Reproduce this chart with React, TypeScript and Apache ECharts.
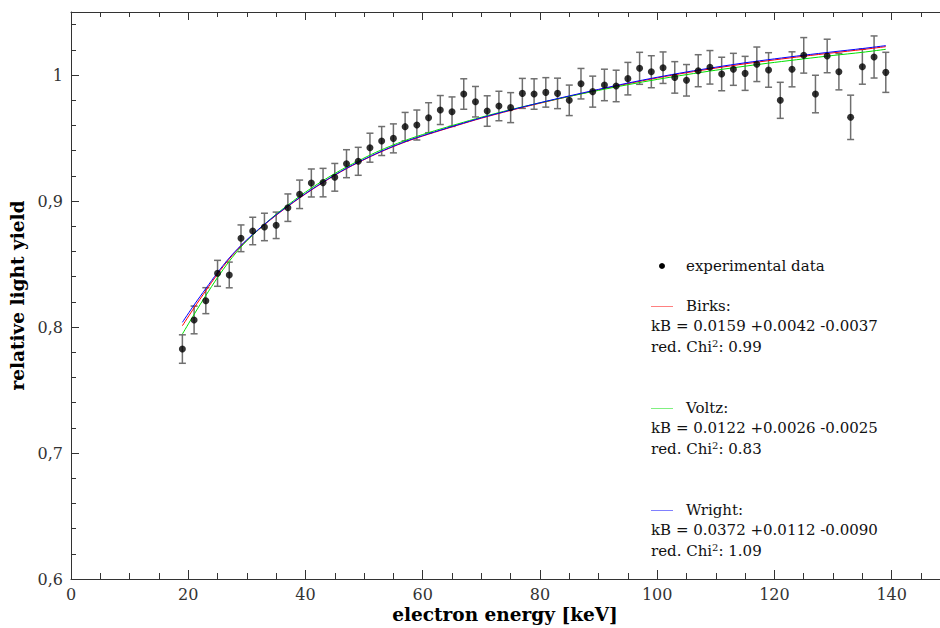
import React, { useEffect, useRef } from "react";
import * as echarts from "echarts";

// Experimental data (electron energy in keV, relative light yield, 1-sigma error)
const energies = [
  19, 21, 23, 25, 27, 29, 31, 33, 35, 37, 39, 41, 43, 45, 47, 49, 51, 53, 55, 57,
  59, 61, 63, 65, 67, 69, 71, 73, 75, 77, 79, 81, 83, 85, 87, 89, 91, 93, 95, 97,
  99, 101, 103, 105, 107, 109, 111, 113, 115, 117, 119, 121, 123, 125, 127, 129, 131, 133, 135, 137, 139,
];
const yieldValues = [
  0.7825, 0.8056, 0.8209, 0.8426, 0.8413, 0.8704, 0.8762, 0.8794, 0.8807, 0.8947,
  0.9053, 0.9143, 0.9146, 0.9188, 0.9296, 0.9315, 0.9423, 0.9476, 0.9497, 0.959,
  0.9603, 0.9661, 0.9722, 0.9709, 0.9849, 0.9788, 0.9714, 0.9754, 0.9741, 0.9854,
  0.9849, 0.9862, 0.9854, 0.9799, 0.9931, 0.9868, 0.9921, 0.9913, 0.9971, 1.0053,
  1.0026, 1.0058, 0.9981, 0.9958, 1.0034, 1.0061, 1.0008, 1.0045, 1.0013, 1.0085,
  1.004, 0.9799, 1.0045, 1.0156, 0.9849, 1.0151, 1.0026, 0.9664, 1.0066, 1.0143, 1.0021,
];
const yieldErrors = [
  0.0113, 0.011, 0.0103, 0.0103, 0.0102, 0.0106, 0.0109, 0.0109, 0.0105, 0.0109,
  0.0113, 0.0111, 0.0113, 0.011, 0.0111, 0.0111, 0.0115, 0.0115, 0.0115, 0.0113,
  0.0119, 0.0119, 0.0115, 0.0117, 0.0121, 0.0121, 0.0121, 0.0117, 0.0119, 0.0119,
  0.0121, 0.0117, 0.0121, 0.0121, 0.0121, 0.0123, 0.0125, 0.0125, 0.0129, 0.0127,
  0.0127, 0.0125, 0.0125, 0.0125, 0.0127, 0.0133, 0.0133, 0.0127, 0.0135, 0.0137,
  0.0137, 0.0143, 0.0139, 0.0141, 0.0149, 0.0133, 0.0144, 0.0176, 0.0139, 0.0167, 0.0159,
];

// Fit curves
const fitEnergies = [
  19, 21, 23, 25, 27, 29, 31, 33, 35, 37, 39, 41, 43, 45, 47, 49, 52, 55, 58, 62,
  66, 70, 75, 80, 85, 90, 95, 100, 105, 110, 115, 120, 125, 130, 135, 139,
];
const birksFit = [
  0.801, 0.8152, 0.8288, 0.842, 0.854, 0.8643, 0.8731, 0.8812, 0.8887, 0.8957,
  0.9024, 0.9087, 0.9147, 0.9204, 0.9257, 0.9305, 0.9372, 0.9432, 0.9485, 0.9545,
  0.9602, 0.9657, 0.9719, 0.9776, 0.983, 0.9882, 0.9931, 0.9977, 1.0018, 1.0055,
  1.0089, 1.012, 1.0149, 1.0176, 1.0202, 1.0225,
];
const voltzFit = [
  0.7944, 0.81, 0.825, 0.8392, 0.8522, 0.8635, 0.873, 0.8815, 0.8895, 0.8968,
  0.9038, 0.9102, 0.9162, 0.9218, 0.927, 0.9318, 0.9386, 0.9445, 0.9497, 0.9557,
  0.9612, 0.9665, 0.9725, 0.9779, 0.983, 0.9878, 0.9923, 0.9965, 1.0003, 1.0038,
  1.007, 1.01, 1.0128, 1.0155, 1.018, 1.0204,
];
const wrightFit = [
  0.8037, 0.8175, 0.8305, 0.8432, 0.8548, 0.8648, 0.8735, 0.8815, 0.889, 0.896,
  0.9027, 0.909, 0.915, 0.9207, 0.926, 0.9308, 0.9375, 0.9435, 0.9488, 0.9548,
  0.9605, 0.966, 0.9722, 0.978, 0.9834, 0.9886, 0.9936, 0.9982, 1.0024, 1.0062,
  1.0097, 1.0128, 1.0157, 1.0184, 1.021, 1.0233,
];

const xTitle = "electron energy [keV]";
const yTitle = "relative light yield";

const legendEntries = [
  { name: "Birks:", color: "#ff8080", kB: "kB = 0.0159 +0.0042 -0.0037", chi: "0.99" },
  { name: "Voltz:", color: "#80f080", kB: "kB = 0.0122 +0.0026 -0.0025", chi: "0.83" },
  { name: "Wright:", color: "#8080ff", kB: "kB = 0.0372 +0.0112 -0.0090", chi: "1.09" },
];

const SERIF = '"DejaVu Serif", serif';
const AXIS_COLOR = "#333";

function legendGraphics() {
  const els: any[] = [];
  const txt = (x: number, y: number, text: string) => ({
    type: "text",
    x,
    y,
    style: {
      text,
      fontFamily: SERIF,
      fontSize: 15,
      fill: "#111",
      align: "left",
      textAlign: "left",
      verticalAlign: "middle",
      textVerticalAlign: "middle",
    },
  });
  els.push({ type: "circle", shape: { cx: 662, cy: 266, r: 3 }, style: { fill: "#000" } });
  els.push(txt(686, 266, "experimental data"));
  legendEntries.forEach((e, i) => {
    const y0 = 306 + i * 102;
    els.push({
      type: "line",
      shape: { x1: 651, y1: y0 + 0.5, x2: 673, y2: y0 + 0.5 },
      style: { stroke: e.color, lineWidth: 1 },
    });
    els.push(txt(686, y0, e.name));
    els.push(txt(651, y0 + 20, e.kB));
    els.push({
      type: "text",
      x: 651,
      y: y0 + 41,
      style: {
        text: "red. Chi{sup|2}: " + e.chi,
        fontFamily: SERIF,
        fontSize: 15,
        fill: "#111",
        align: "left",
        textAlign: "left",
        verticalAlign: "middle",
        textVerticalAlign: "middle",
        rich: {
          sup: { fontFamily: SERIF, fontSize: 10, fill: "#111", verticalAlign: "top", lineHeight: 18 },
        },
      },
    });
  });
  // x-axis title, centred under the visible part of the axis
  els.push({
    type: "text",
    x: 505,
    y: 614,
    style: {
      text: xTitle,
      fontFamily: SERIF,
      fontWeight: "bold",
      fontSize: 18.5,
      fill: "#000",
      align: "center",
      textAlign: "center",
      verticalAlign: "middle",
      textVerticalAlign: "middle",
    },
  });
  return els;
}

export default function App() {
  const ref = useRef<HTMLDivElement>(null);
  useEffect(() => {
    if (!ref.current) return;
    const chart = echarts.init(ref.current, null, { renderer: "svg" });
    const tickLabelStyle = { fontFamily: SERIF, fontSize: 16, color: AXIS_COLOR };
    const lineStyle = { color: AXIS_COLOR, width: 1 };
    const option: any = {
      animation: false,
      backgroundColor: "#ffffff",
      grid: {
        left: 71,
        right: -68.9,
        top: 12,
        bottom: 49,
        containLabel: false,
        outerBoundsMode: "none",
      },
      xAxis: [
        {
          type: "value",
          min: 0,
          max: 160,
          interval: 20,
          position: "bottom",
          axisLine: { show: true, onZero: false, lineStyle },
          axisTick: { show: true, inside: true, length: 9, lineStyle },
          minorTick: { show: true, splitNumber: 4, length: 6, lineStyle },
          axisLabel: {
            ...tickLabelStyle,
            margin: 7,
            formatter: (v: number) => (v > 140 ? "" : String(v)),
          },
          splitLine: { show: false },
        },
        {
          type: "value",
          min: 0,
          max: 160,
          interval: 20,
          position: "top",
          axisLine: { show: true, onZero: false, lineStyle },
          axisTick: { show: true, inside: true, length: 8, lineStyle },
          minorTick: { show: true, splitNumber: 4, length: 5, lineStyle },
          axisLabel: { show: false },
          splitLine: { show: false },
        },
      ],
      yAxis: [
        {
          type: "value",
          min: 0.6,
          max: 1.05,
          interval: 0.1,
          position: "left",
          axisLine: { show: true, onZero: false, lineStyle },
          axisTick: { show: true, inside: true, length: 8, lineStyle },
          axisLabel: {
            ...tickLabelStyle,
            margin: 8,
            formatter: (v: number) => {
              const r = Math.round(v * 10);
              if (Math.abs(v * 10 - r) > 1e-6) return "";
              return String(r / 10).replace(".", ",");
            },
          },
          splitLine: { show: false },
          name: yTitle,
          nameLocation: "middle",
          nameGap: 41,
          nameTextStyle: { fontFamily: SERIF, fontWeight: "bold", fontSize: 18.5, color: "#000" },
        },
        {
          type: "value",
          min: 0.6,
          max: 1.05,
          interval: 0.02,
          position: "left",
          axisLine: { show: false },
          axisTick: { show: true, inside: true, length: 5, lineStyle },
          axisLabel: { show: false },
          splitLine: { show: false },
        },
      ],
      series: [
        {
          type: "custom",
          name: "errors",
          xAxisIndex: 0,
          yAxisIndex: 0,
          z: 1,
          encode: { x: 0, y: 1 },
          data: energies.map((e, i) => [e, yieldValues[i], yieldErrors[i]]),
          renderItem: (params: any, api: any) => {
            const x = api.value(0);
            const y = api.value(1);
            const err = api.value(2);
            const top = api.coord([x, y + err]);
            const bot = api.coord([x, y - err]);
            const hw = 3.5;
            const style = { stroke: "#6f6f6f", lineWidth: 1.5, fill: null };
            return {
              type: "group",
              children: [
                { type: "line", shape: { x1: top[0], y1: top[1], x2: bot[0], y2: bot[1] }, style },
                { type: "line", shape: { x1: top[0] - hw, y1: top[1], x2: top[0] + hw, y2: top[1] }, style },
                { type: "line", shape: { x1: bot[0] - hw, y1: bot[1], x2: bot[0] + hw, y2: bot[1] }, style },
              ],
            };
          },
        },
        {
          type: "line",
          name: "Birks",
          z: 2,
          smooth: 0.3,
          showSymbol: false,
          symbol: "none",
          lineStyle: { color: "#ff0000", width: 1 },
          data: fitEnergies.map((e, i) => [e, birksFit[i]]),
        },
        {
          type: "line",
          name: "Voltz",
          z: 2,
          smooth: 0.3,
          showSymbol: false,
          symbol: "none",
          lineStyle: { color: "#00e000", width: 1 },
          data: fitEnergies.map((e, i) => [e, voltzFit[i]]),
        },
        {
          type: "line",
          name: "Wright",
          z: 2,
          smooth: 0.3,
          showSymbol: false,
          symbol: "none",
          lineStyle: { color: "#0000ff", width: 1 },
          data: fitEnergies.map((e, i) => [e, wrightFit[i]]),
        },
        {
          type: "scatter",
          name: "experimental data",
          z: 3,
          symbol: "circle",
          symbolSize: 7,
          itemStyle: { color: "#000" },
          data: energies.map((e, i) => [e, yieldValues[i]]),
        },
      ],
      graphic: legendGraphics(),
    };
    chart.setOption(option);
    return () => chart.dispose();
  }, []);
  return (
    <div
      ref={ref}
      style={{ position: "absolute", left: 0, top: 0, width: 940, height: 628, background: "#fff" }}
    />
  );
}
